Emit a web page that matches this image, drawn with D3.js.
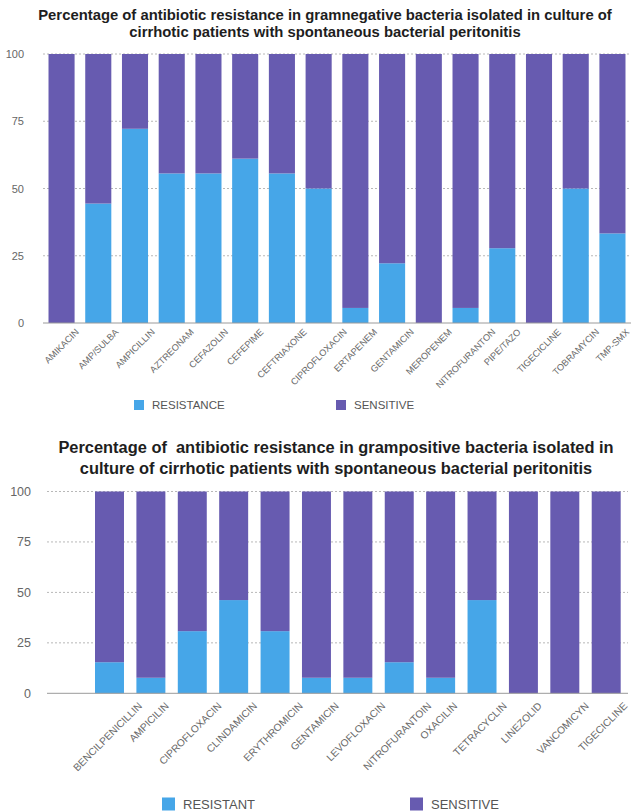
<!DOCTYPE html>
<html>
<head>
<meta charset="utf-8">
<script src="https://cdn.jsdelivr.net/npm/d3@7"></script>
<style>
  html, body { margin: 0; padding: 0; background: #fff; }
  svg { display: block; font-family: "Liberation Sans", Arial, Helvetica, sans-serif; }
</style>
</head>
<body>
<svg id="chart" width="632" height="812"></svg>
<script>
// ---------- DATA ----------
const negCategories = ["AMIKACIN","AMP/SULBA","AMPICILLIN","AZTREONAM","CEFAZOLIN","CEFEPIME","CEFTRIAXONE","CIPROFLOXACIN","ERTAPENEM","GENTAMICIN","MEROPENEM","NITROFURANTON","PIPE/TAZO","TIGECICLINE","TOBRAMYCIN","TMP-SMX"];
const negResistance = [0, 44.4, 72.2, 55.6, 55.6, 61.1, 55.6, 50, 5.6, 22.2, 0, 5.6, 27.8, 0, 50, 33.3];
const negSensitive  = [100, 55.6, 27.8, 44.4, 44.4, 38.9, 44.4, 50, 94.4, 77.8, 100, 94.4, 72.2, 100, 50, 66.7];

const posCategories = ["BENCILPENICILLIN","AMPICILIN","CIPROFLOXACIN","CLINDAMICIN","ERYTHROMICIN","GENTAMICIN","LEVOFLOXACIN","NITROFURANTOIN","OXACILIN","TETRACYCLIN","LINEZOLID","VANCOMICYN","TIGECICLINE"];
const posResistance = [15.4, 7.7, 30.8, 46.2, 30.8, 7.7, 7.7, 15.4, 7.7, 46.2, 0, 0, 0];
const posSensitive  = [84.6, 92.3, 69.2, 53.8, 69.2, 92.3, 92.3, 84.6, 92.3, 53.8, 100, 100, 100];

const yTicks = [0, 25, 50, 75, 100];

const negTitle = ["Percentage of antibiotic resistance in gramnegative bacteria isolated in culture of",
                  "cirrhotic patients with spontaneous bacterial peritonitis"];
const posTitle = ["Percentage of  antibiotic resistance in grampositive bacteria isolated in",
                  "culture of cirrhotic patients with spontaneous bacterial peritonitis"];
const negLegend = ["RESISTANCE", "SENSITIVE"];
const posLegend = ["RESISTANT", "SENSITIVE"];

// ---------- STYLE ----------
const COL_RES = "#46a6e8";
const COL_SEN = "#675bb0";

const svg = d3.select("#chart");

function drawChart(cfg) {
  const g = svg.append("g");
  const x = d3.scaleBand().domain(cfg.categories)
    .range(cfg.xRange).paddingInner(cfg.padIn).paddingOuter(cfg.padOut);
  const y = d3.scaleLinear().domain([0, 100]).range(cfg.yRange);

  // title
  const tt = g.append("text").attr("text-anchor", "middle")
    .attr("font-weight", "bold").attr("fill", "#1e1e1e")
    .attr("font-size", 12);
  tt.selectAll("tspan").data(cfg.title).join("tspan")
    .attr("x", cfg.titleX).attr("y", (d, i) => cfg.titleY + i * cfg.titleLH)
    .style("white-space", "pre")
    .text(d => d);
  const w0 = tt.select("tspan").node().getComputedTextLength();
  tt.attr("font-size", 12 * cfg.titleW / w0);

  // grid
  g.append("g").selectAll("line").data(yTicks.filter(t => t > 0)).join("line")
    .attr("x1", cfg.gridX[0]).attr("x2", cfg.gridX[1])
    .attr("y1", d => y(d)).attr("y2", d => y(d))
    .attr("stroke", "#b8b8b8").attr("stroke-width", 1)
    .attr("stroke-dasharray", "2,2");

  // y axis labels via d3 axis
  const ya = g.append("g").attr("transform", `translate(${cfg.yLabelX},0)`)
    .call(d3.axisLeft(y).tickValues(yTicks).tickSize(0).tickPadding(0));
  ya.select(".domain").remove();
  ya.selectAll("text").attr("font-size", cfg.yFont).attr("fill", "#666")
    .attr("font-family", "Liberation Sans, Arial, sans-serif");

  // stacked bars
  const rows = cfg.categories.map((c, i) => ({cat: c, res: cfg.res[i], sen: cfg.sen[i]}));
  const stack = d3.stack().keys(["res", "sen"])(rows);
  const colors = {res: COL_RES, sen: COL_SEN};
  g.append("g").selectAll("g").data(stack).join("g")
    .attr("fill", d => colors[d.key])
    .selectAll("rect").data(d => d).join("rect")
    .attr("x", d => x(d.data.cat))
    .attr("width", x.bandwidth())
    .attr("y", d => y(d[1]))
    .attr("height", d => y(d[0]) - y(d[1]));

  // baseline
  g.append("line").attr("x1", cfg.gridX[0]).attr("x2", cfg.gridX[1])
    .attr("y1", y(0)).attr("y2", y(0)).attr("stroke", "#9a9a9a").attr("stroke-width", 1);

  // x labels rotated, bbox centred on bar, top aligned below axis
  const fs = cfg.xFont;
  const lab = g.append("g").selectAll("g").data(cfg.categories).join("g");
  lab.append("text").attr("text-anchor", "middle").attr("dy", "0.35em")
    .attr("font-size", fs).attr("fill", "#6a6a6a")
    .text(d => d);
  lab.each(function(d) {
    const t = d3.select(this).select("text").node();
    const w = t.getComputedTextLength();
    const half = (w + fs * 0.72) * 0.7071 / 2;
    let cx = x(d) + x.bandwidth() / 2 + cfg.labelDX;
    // keep the label inside the page
    cx = Math.min(cx, cfg.maxRight - half);
    d3.select(this).attr("transform", `translate(${cx},${y(0) + cfg.labelGap + half}) rotate(-45)`);
  });

  // legend
  const lg = g.append("g");
  cfg.legend.forEach((name, i) => {
    const lx = cfg.legendX[i];
    lg.append("rect").attr("x", lx).attr("y", cfg.legendY - cfg.legSq / 2)
      .attr("width", cfg.legSq).attr("height", cfg.legSq)
      .attr("fill", i === 0 ? COL_RES : COL_SEN);
    lg.append("text").attr("x", lx + cfg.legSq + 8).attr("y", cfg.legendY)
      .attr("dy", "0.36em").attr("font-size", cfg.legFont).attr("fill", "#555")
      .text(name);
  });
}

drawChart({
  categories: negCategories, res: negResistance, sen: negSensitive,
  xRange: [43, 631], padIn: 0.29, padOut: 0.15,
  yRange: [323, 54], gridX: [43, 631], yLabelX: 24, yFont: 11,
  title: negTitle, titleX: 325, titleY: 19.5, titleLH: 17, titleW: 574,
  xFont: 9.2, labelGap: 5, labelDX: 0, maxRight: 630,
  legend: negLegend, legendX: [134, 336], legendY: 405, legSq: 10, legFont: 11.5
});

drawChart({
  categories: posCategories, res: posResistance, sen: posSensitive,
  xRange: [88.8, 626.9], padIn: 0.3, padOut: 0.15,
  yRange: [693.3, 491.5], gridX: [47, 628], yLabelX: 31, yFont: 12.5,
  title: posTitle, titleX: 336, titleY: 453, titleLH: 21, titleW: 556,
  xFont: 10.2, labelGap: 8, labelDX: -2, maxRight: 628,
  legend: posLegend, legendX: [162, 410], legendY: 804, legSq: 13, legFont: 13
});
</script>
</body>
</html>
